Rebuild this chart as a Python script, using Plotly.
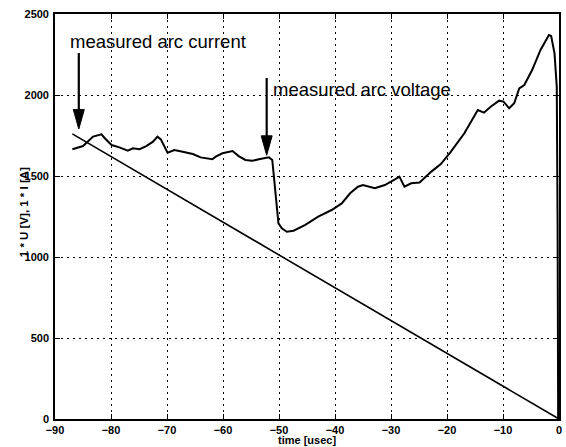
import plotly.graph_objects as go

# ---- data ----
time_voltage = [-86.9, -85.0, -83.2, -81.7, -81.1, -79.9, -78.5, -77.0, -76.1, -74.9,
                -73.7, -72.5, -71.7, -71.1, -69.9, -68.7, -67.2, -65.4, -64.0, -61.9,
                -61.3, -60.1, -58.3, -57.2, -56.0, -54.8, -53.6, -51.8, -51.2, -50.6,
                -50.1, -49.5, -48.6, -47.4, -45.3, -43.0, -40.6, -38.8, -37.3, -35.9,
                -35.0, -32.9, -31.1, -29.3, -28.5, -27.6, -26.4, -24.9, -22.8, -21.1,
                -19.3, -16.9, -14.5, -13.4, -12.2, -10.7, -9.9, -8.9, -8.0, -7.1,
                -6.2, -4.8, -3.3, -1.8, -1.4, -0.8, -0.4, -0.25, -0.15]
arc_voltage = [1665, 1685, 1743, 1757, 1733, 1691, 1677, 1656, 1671, 1665,
               1685, 1712, 1743, 1726, 1644, 1660, 1650, 1636, 1615, 1603,
               1619, 1640, 1654, 1623, 1599, 1594, 1603, 1615, 1599, 1393,
               1208, 1177, 1156, 1162, 1198, 1249, 1290, 1331, 1393, 1434,
               1444, 1424, 1444, 1479, 1496, 1434, 1455, 1460, 1527, 1574,
               1650, 1764, 1907, 1891, 1928, 1965, 1959, 1918, 1949, 2041,
               2062, 2154, 2278, 2370, 2364, 2257, 2052, 1200, 0]

time_current = [-86.9, 0.0]
arc_current = [1760, 0]

x_ticks = [-90, -80, -70, -60, -50, -40, -30, -20, -10, 0]
y_ticks = [0, 500, 1000, 1500, 2000, 2500]

label_current = "measured arc current"
label_voltage = "measured arc voltage"

# annotation anchors (data units)
arrow_current = dict(x=-85.75, tip=1790, tail=2259)
arrow_voltage = dict(x=-52.2, tip=1628, tail=2105)
head_len = 120      # data units (y)
head_half = 0.98    # data units (x)

FONT = "Liberation Sans, Arial, Helvetica, sans-serif"

fig = go.Figure()
fig.add_trace(go.Scatter(x=time_voltage, y=arc_voltage, mode="lines",
                         line=dict(color="black", width=2), showlegend=False))
fig.add_trace(go.Scatter(x=time_current, y=arc_current, mode="lines",
                         line=dict(color="black", width=1.6), showlegend=False))

shapes = []
for a in (arrow_current, arrow_voltage):
    shapes.append(dict(type="line", xref="x", yref="y",
                       x0=a["x"], x1=a["x"], y0=a["tail"], y1=a["tip"] + head_len * 0.5,
                       line=dict(color="black", width=2.2)))
    path = "M {x0},{yb} L {x1},{yb} L {xm},{yt} Z".format(
        x0=a["x"] - head_half, x1=a["x"] + head_half, xm=a["x"],
        yb=a["tip"] + head_len, yt=a["tip"])
    shapes.append(dict(type="path", xref="x", yref="y", path=path,
                       fillcolor="black", line=dict(color="black", width=1)))

annotations = [
    dict(x=-87.6, y=2333, xref="x", yref="y", text=label_current, showarrow=False,
         xanchor="left", yanchor="middle", font=dict(family=FONT, size=18.5, color="black")),
    dict(x=-51.4, y=2037, xref="x", yref="y", text=label_voltage, showarrow=False,
         xanchor="left", yanchor="middle", font=dict(family=FONT, size=18.5, color="black")),
    dict(x=-0.06, y=0.51, xref="paper", yref="paper", text="1 * U [V], 1 * I [A]",
         textangle=-90, showarrow=False, xanchor="center", yanchor="middle",
         font=dict(family=FONT, size=11.5, color="black", weight="bold")),
    dict(x=0.5, y=-0.052, xref="paper", yref="paper", text="time [usec]",
         showarrow=False, xanchor="center", yanchor="middle",
         font=dict(family=FONT, size=11, color="black", weight="bold")),
]

axis_common = dict(showline=True, linecolor="black", linewidth=1.6, mirror="ticks",
                   ticks="inside", ticklen=5, tickcolor="black", tickwidth=1.2,
                   showgrid=True, gridcolor="black", gridwidth=1, griddash="2px,4px",
                   zeroline=False,
                   tickfont=dict(family=FONT, size=11, color="black", weight="bold"))

fig.update_layout(
    width=566, height=447,
    margin=dict(l=55, r=4, t=14, b=28),
    paper_bgcolor="white", plot_bgcolor="white",
    xaxis=dict(range=[-90, 0], tickvals=x_ticks, ticklabelstandoff=0, **axis_common),
    yaxis=dict(range=[0, 2500], tickvals=y_ticks, ticklabelstandoff=2, **axis_common),
    shapes=shapes, annotations=annotations, showlegend=False,
)

fig.write_html("out.html", config={"displayModeBar": False},
               post_script="document.body.style.margin='0px';document.body.style.overflow='hidden';")
